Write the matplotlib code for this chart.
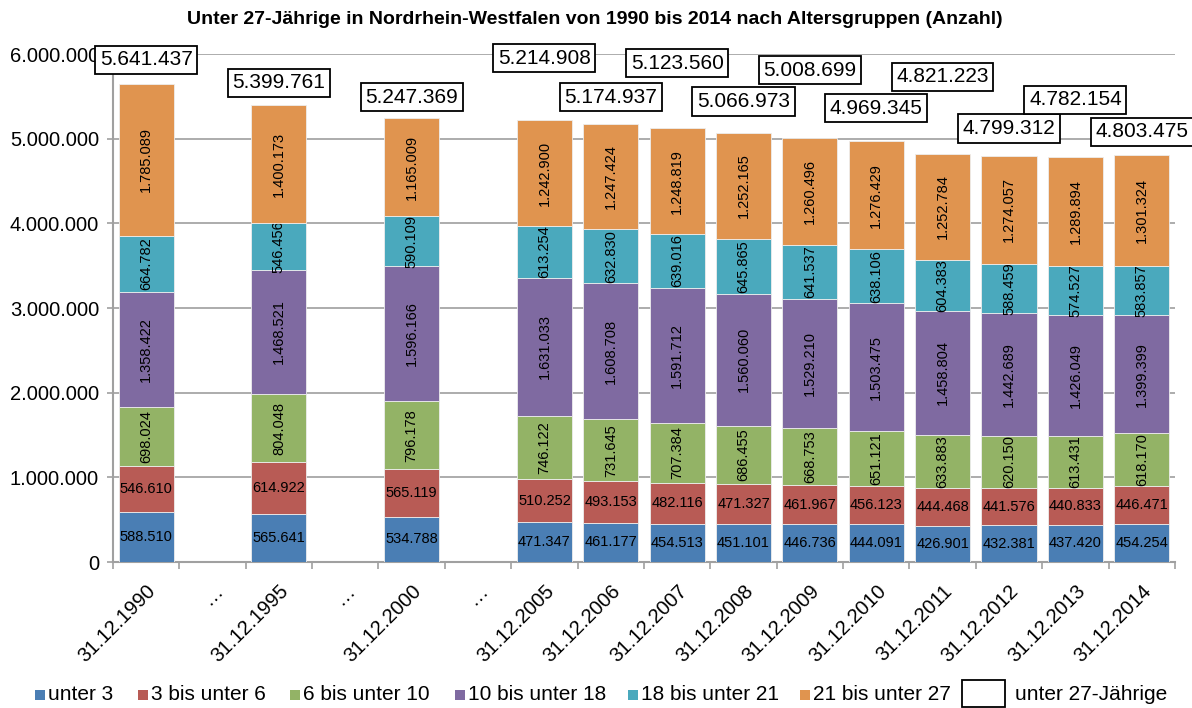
import numpy as np
import matplotlib
matplotlib.use("Agg")
from matplotlib import pyplot as plt
from matplotlib.patches import Rectangle
from matplotlib.ticker import FuncFormatter, FixedLocator

plt.rcParams['font.family'] = ['Liberation Sans', 'DejaVu Sans']

## data ##
categories = ['31.12.1990', '…', '31.12.1995', '…', '31.12.2000', '…',
              '31.12.2005', '31.12.2006', '31.12.2007', '31.12.2008', '31.12.2009',
              '31.12.2010', '31.12.2011', '31.12.2012', '31.12.2013', '31.12.2014']

series_names = ['unter 3', '3 bis unter 6', '6 bis unter 10', '10 bis unter 18',
                '18 bis unter 21', '21 bis unter 27']

unter_3 = [588510, 565641, 534788, 471347, 461177, 454513, 451101, 446736,
           444091, 426901, 432381, 437420, 454254]
bis_6 = [546610, 614922, 565119, 510252, 493153, 482116, 471327, 461967,
         456123, 444468, 441576, 440833, 446471]
bis_10 = [698024, 804048, 796178, 746122, 731645, 707384, 686455, 668753,
          651121, 633883, 620150, 613431, 618170]
bis_18 = [1358422, 1468521, 1596166, 1631033, 1608708, 1591712, 1560060, 1529210,
          1503475, 1458804, 1442689, 1426049, 1399399]
bis_21 = [664782, 546456, 590109, 613254, 632830, 639016, 645865, 641537,
          638106, 604383, 588459, 574527, 583857]
bis_27 = [1785089, 1400173, 1165009, 1242900, 1247424, 1248819, 1252165, 1260496,
          1276429, 1252784, 1274057, 1289894, 1301324]

totals = [5641437, 5399761, 5247369, 5214908, 5174937, 5123560, 5066973, 5008699,
          4969345, 4821223, 4799312, 4782154, 4803475]

# where Excel put the total boxes (y, in persons)
total_label_y = [5.93e6, 5.66e6, 5.49e6, 5.95e6, 5.49e6, 5.89e6, 5.44e6, 5.81e6,
                 5.36e6, 5.73e6, 5.12e6, 5.46e6, 5.08e6]

colors = ['#4A7EB4', '#B85B55', '#93B366', '#7F6AA1', '#4AA9BD', '#E0944F']


def de_fmt(v, pos=None):
    return f"{int(round(v)):,}".replace(",", ".")


fig = plt.figure(figsize=(11.92, 7.08), dpi=100)
ax = fig.add_axes([0.0948, 0.2062, 0.8909, 0.7175])

x = np.array([i for i, c in enumerate(categories) if c != '…'])
all_series = [unter_3, bis_6, bis_10, bis_18, bis_21, bis_27]

bottom = np.zeros(len(x))
for k, (vals, col) in enumerate(zip(all_series, colors)):
    vals = np.array(vals)
    bars = ax.bar(x, vals, width=0.83, bottom=bottom, color=col,
                  edgecolor='#EDEDED', linewidth=0.6, zorder=3)
    rot = 0 if k < 2 else 90
    ax.bar_label(bars, labels=[de_fmt(v) for v in vals], label_type='center',
                 rotation=rot, fontsize=10.5, color='black')
    bottom += vals

for xi, tot, ly in zip(x, totals, total_label_y):
    ax.text(xi, ly, de_fmt(tot), ha='center', va='center', fontsize=15, zorder=5,
            bbox=dict(boxstyle='square,pad=0.22', fc='white', ec='black', lw=1.3))

ax.set_xlim(-0.5, len(categories) - 0.5)
ax.set_ylim(0, 6e6)
ax.yaxis.set_major_locator(FixedLocator(np.arange(0, 6.01e6, 1e6)))
ax.yaxis.set_major_formatter(FuncFormatter(de_fmt))
ax.tick_params(axis='y', labelsize=14.5, length=4, width=1.2, color='#A0A0A0', pad=6)

ax.xaxis.set_major_locator(FixedLocator(np.arange(-0.5, len(categories), 1.0)))
ax.xaxis.set_minor_locator(FixedLocator(np.arange(len(categories))))
ax.set_xticklabels([], minor=False)
ax.set_xticklabels(categories, minor=True, rotation=45, ha='right',
                   rotation_mode='anchor', fontsize=14.5)
ax.tick_params(axis='x', which='major', length=5, width=1.2, color='#A0A0A0')
ax.tick_params(axis='x', which='minor', length=0, pad=14)

ax.grid(axis='y', color='#A6A6A6', lw=1.3, zorder=0)
ax.set_axisbelow(True)
for s in ['top', 'right']:
    ax.spines[s].set_visible(False)
for s in ['left', 'bottom']:
    ax.spines[s].set_color('#A0A0A0')
    ax.spines[s].set_linewidth(1.5)

fig.suptitle('Unter 27-Jährige in Nordrhein-Westfalen von 1990 bis 2014 nach Altersgruppen (Anzahl)',
             x=0.499, y=0.984, fontsize=14, fontweight='bold')

## legend drawn by hand, Excel style ##
leg_x = [35, 138, 290, 455, 628, 800]
W, H = 1192.0, 708.0
yc = 695
for lx, name, col in zip(leg_x, series_names, colors):
    fig.add_artist(Rectangle((lx / W, (H - yc - 5) / H), 10 / W, 10 / H,
                             transform=fig.transFigure, fc=col, ec='none'))
    fig.text((lx + 13) / W, (H - yc) / H, name, fontsize=15, va='center', ha='left')
fig.add_artist(Rectangle((962 / W, (H - 707) / H), 43 / W, 27 / H,
                         transform=fig.transFigure, fc='white', ec='black', lw=1.3))
fig.text(1015 / W, (H - yc) / H, 'unter 27-Jährige', fontsize=15, va='center', ha='left')

fig.savefig('out.png', dpi=100)
